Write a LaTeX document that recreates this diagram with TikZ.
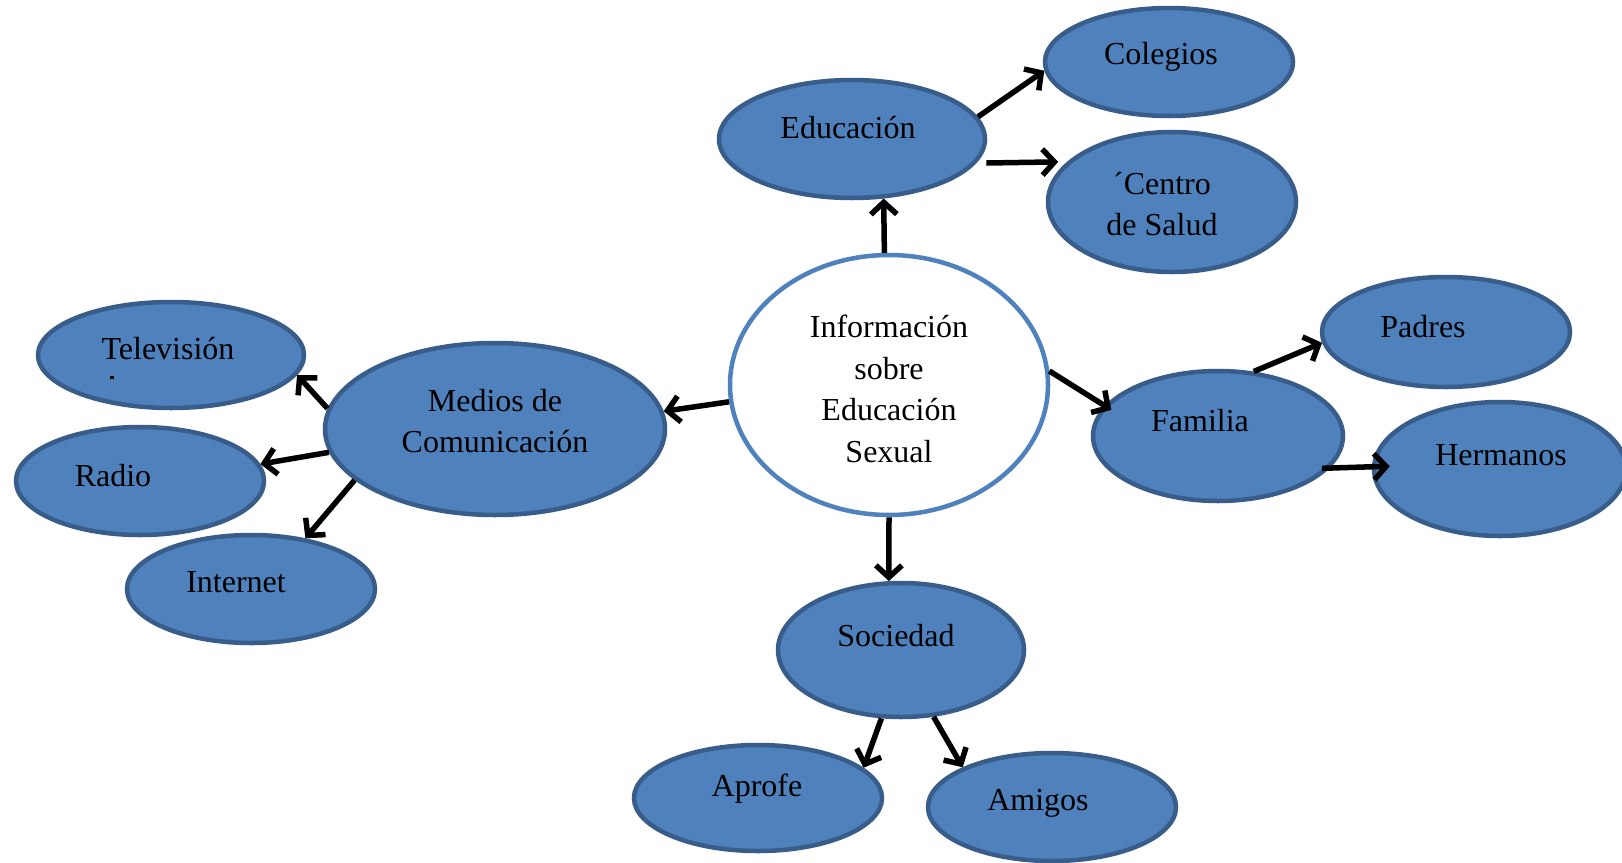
\documentclass[tikz,border=0pt]{standalone}
\usepackage{fontspec}
\setmainfont{Liberation Serif}
\usetikzlibrary{arrows.meta,shapes.geometric}
\definecolor{bubfill}{HTML}{4F81BD}
\definecolor{bubline}{HTML}{385D8A}
\definecolor{cline}{HTML}{4F81BD}
\begin{document}
\begin{tikzpicture}[x=1pt,y=-1pt,
 bub/.style={ellipse, fill=bubfill, draw=bubline, line width=4.5pt, inner sep=0pt},
 lbl/.style={font=\fontsize{32}{41.5}\selectfont, align=center, inner sep=0pt, text=black},
 arr/.style={line width=5.5pt, -{Straight Barb[length=12pt,width=26pt,line width=5.5pt]}}]
\useasboundingbox (0,0) rectangle (1622,862);
\fill[white] (0,0) rectangle (1622,862);
% ellipses
\node[ellipse, fill=white, draw=cline, line width=4.5pt, inner sep=0pt, minimum width=318pt, minimum height=260pt] (c) at (889,385) {};
\node[bub, minimum width=266pt, minimum height=118pt] (edu) at (852,139) {};
\node[bub, minimum width=248pt, minimum height=108pt] (col) at (1169,62) {};
\node[bub, minimum width=248pt, minimum height=140pt] (cen) at (1172,202) {};
\node[bub, minimum width=340pt, minimum height=172pt] (med) at (495,429) {};
\node[bub, minimum width=266pt, minimum height=106pt] (tv) at (171,355) {};
\node[bub, minimum width=248pt, minimum height=108pt] (rad) at (140,481) {};
\node[bub, minimum width=248pt, minimum height=108pt] (int) at (251,589) {};
\node[bub, minimum width=250pt, minimum height=130pt] (fam) at (1218,436) {};
\node[bub, minimum width=248pt, minimum height=110pt] (pad) at (1446,332) {};
\node[bub, minimum width=252pt, minimum height=134pt] (her) at (1500,469) {};
\node[bub, minimum width=246pt, minimum height=134pt] (soc) at (901,650) {};
\node[bub, minimum width=248pt, minimum height=106pt] (apr) at (758,798) {};
\node[bub, minimum width=248pt, minimum height=108pt] (ami) at (1052,807) {};
% labels
\node[lbl] (tc) at (889,389) {Información\\sobre\\Educación\\Sexual};
\node[lbl] (tedu) at (848,128) {Educación};
\node[lbl] (tcol) at (1161,57) {Colegios};
\node[lbl] (tcen) at (1162,204) {´Centro\\de Salud};
\node[lbl] (tmed) at (495,421) {Medios de\\Comunicación};
\node[lbl] (ttv) at (168,349) {Televisión};
\fill[black] (110,376) rectangle (114,379);
\node[lbl] (trad) at (113,476) {Radio};
\node[lbl] (tint) at (236,582) {Internet};
\node[lbl] (tfam) at (1200,421) {Familia};
\node[lbl] (tpad) at (1423,327) {Padres};
\node[lbl] (ther) at (1501,455) {Hermanos};
\node[lbl] (tsoc) at (896,636) {Sociedad};
\node[lbl] (tapr) at (757,789) {Aprofe};
\node[lbl] (tami) at (1038,803) {Amigos};
% arrows
\draw[arr] (c.92) -- (edu.-62);
\draw[arr] (edu.10) -- (col.184);
\draw[arr, shorten <=10pt, shorten >=9pt] (edu.-11.2) -- (cen.159.3);
\draw[arr] (c.186) -- (med.6);
\draw[arr] (med.173) -- (tv.-9);
\draw[arr] (med.188) -- (rad.8);
\draw[arr] (med.200) -- (int.43);
\draw[arr, shorten >=-8pt] (c.5) -- (fam.165);
\draw[arr] (fam.61) -- (pad.185);
\draw[arr, shorten <=-8pt, shorten >=-18pt] (fam.-16) -- (her.179);
\draw[arr] (c.-90) -- (soc.100);
\draw[arr] (soc.254) -- (apr.16);
\draw[arr] (soc.-64) -- (ami.156);
\end{tikzpicture}
\end{document}
